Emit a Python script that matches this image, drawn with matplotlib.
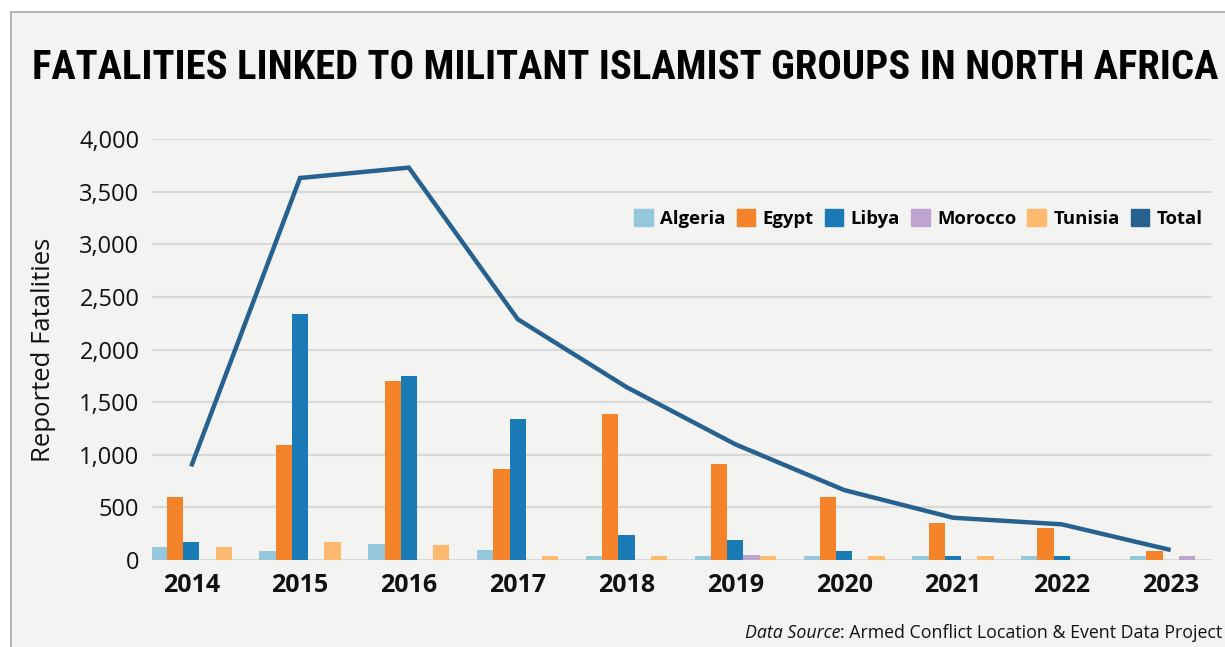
import matplotlib.pyplot as plt
from matplotlib.patches import Rectangle
from matplotlib.ticker import FuncFormatter
from matplotlib import font_manager
import numpy as np

# data
years = ['2014', '2015', '2016', '2017', '2018', '2019', '2020', '2021', '2022', '2023']
algeria = [124, 86, 152, 95, 38, 38, 38, 38, 38, 38]
egypt = [599, 1093, 1700, 865, 1387, 912, 599, 352, 304, 86]
libya = [171, 2337, 1748, 1340, 238, 190, 86, 38, 38, 0]
morocco = [0, 0, 0, 0, 0, 48, 0, 0, 0, 38]
tunisia = [124, 171, 143, 38, 38, 38, 38, 38, 0, 0]
total = [890, 3632, 3731, 2290, 1644, 1100, 665, 402, 339, 95]

series = [('Algeria', algeria, '#96c8dd'),
          ('Egypt', egypt, '#f4832a'),
          ('Libya', libya, '#1a7ab5'),
          ('Morocco', morocco, '#bea5cf'),
          ('Tunisia', tunisia, '#fdb96e')]
total_color = '#27618f'
bg = '#f3f3f2'
font = 'Open Sans'

# narrow face for the title, if one is around
names = {f.name for f in font_manager.fontManager.ttflist}
title_family = ['DejaVu Sans']
for cand in ['Liberation Sans Narrow', 'Roboto Condensed', 'Open Sans Condensed', 'Noto Sans Condensed']:
    if cand in names:
        title_family = [cand, 'DejaVu Sans']
        break

fig = plt.figure(figsize=(12.25, 6.47), dpi=100)
fig.patch.set_facecolor('white')
# grey panel with a thin border on the left and top
fig.patches.append(Rectangle((11 / 1225, -0.1), 1.2, 1 - 12 / 647 + 0.1,
                             transform=fig.transFigure, facecolor=bg,
                             edgecolor='#a8a8a8', linewidth=1.2, zorder=-5))

ax = fig.add_axes([152 / 1225, 1 - 560 / 647, (1212 - 152) / 1225, (560 - 139.3) / 647])
ax.set_facecolor(bg)
ax.set_zorder(1)

x = np.arange(len(years))
w = 0.149
for i, (name, vals, col) in enumerate(series):
    ax.bar(x + (i - 2) * w, vals, width=w, color=col, label=name, zorder=3)
ax.plot(x, total, color=total_color, linewidth=3.2, label='Total', zorder=4,
        solid_capstyle='butt', solid_joinstyle='miter')

ax.set_xlim(-0.36, 9.38)
ax.set_ylim(0, 4000)
ax.set_yticks(np.arange(0, 4001, 500))
ax.yaxis.set_major_formatter(FuncFormatter(lambda v, p: f'{int(v):,}'))
ax.set_xticks(x)
ax.set_xticklabels(years, fontsize=18, fontweight='bold', family=font)
for lab in ax.get_yticklabels():
    lab.set_fontsize(17)
    lab.set_family(font)
ax.tick_params(axis='both', length=0, colors='#111111')
ax.tick_params(axis='x', pad=9)
ax.tick_params(axis='y', pad=9)
ax.grid(axis='y', color='#d8d8d8', linewidth=1.6, zorder=0)
for s in ax.spines.values():
    s.set_visible(False)

ax.set_ylabel('Reported Fatalities', fontsize=18.5, family=font, color='#111111', labelpad=17)

# legend: squares in a single row
sq = [Rectangle((0, 0), 1, 1, color=c) for _, _, c in series] + [Rectangle((0, 0), 1, 1, color=total_color)]
leg = ax.legend(sq, [s[0] for s in series] + ['Total'], ncol=6, loc='center right',
                bbox_to_anchor=(0.998, 0.812), frameon=False,
                prop={'family': font, 'weight': 'bold', 'size': 13.3},
                handlelength=1.0, handleheight=1.0, handletextpad=0.4,
                columnspacing=0.6, borderaxespad=0)

# title, scaled to fill the width like the original
title = fig.text(0.5, 1 - 68 / 647, 'FATALITIES LINKED TO MILITANT ISLAMIST GROUPS IN NORTH AFRICA',
                 ha='center', va='center', fontsize=40, fontweight='bold',
                 fontstretch='condensed', family=title_family, color='black')
fig.canvas.draw()
bb = title.get_window_extent()
title.set_fontsize(40 * 1180 / bb.width)
title.set_x((35 + 1180 / 2) / 1225)

src1 = fig.text(745 / 1225, 1 - 633 / 647, 'Data Source', style='italic', fontsize=12.8,
                family=font, ha='left', va='center', color='#111111')
fig.canvas.draw()
src = src1.get_window_extent()
fig.text(src.x1 / 1225, 1 - 633 / 647, ': Armed Conflict Location & Event Data Project',
         fontsize=12.8, family=font, ha='left', va='center', color='#111111')

fig.savefig('out.png', dpi=100, facecolor=fig.get_facecolor())
